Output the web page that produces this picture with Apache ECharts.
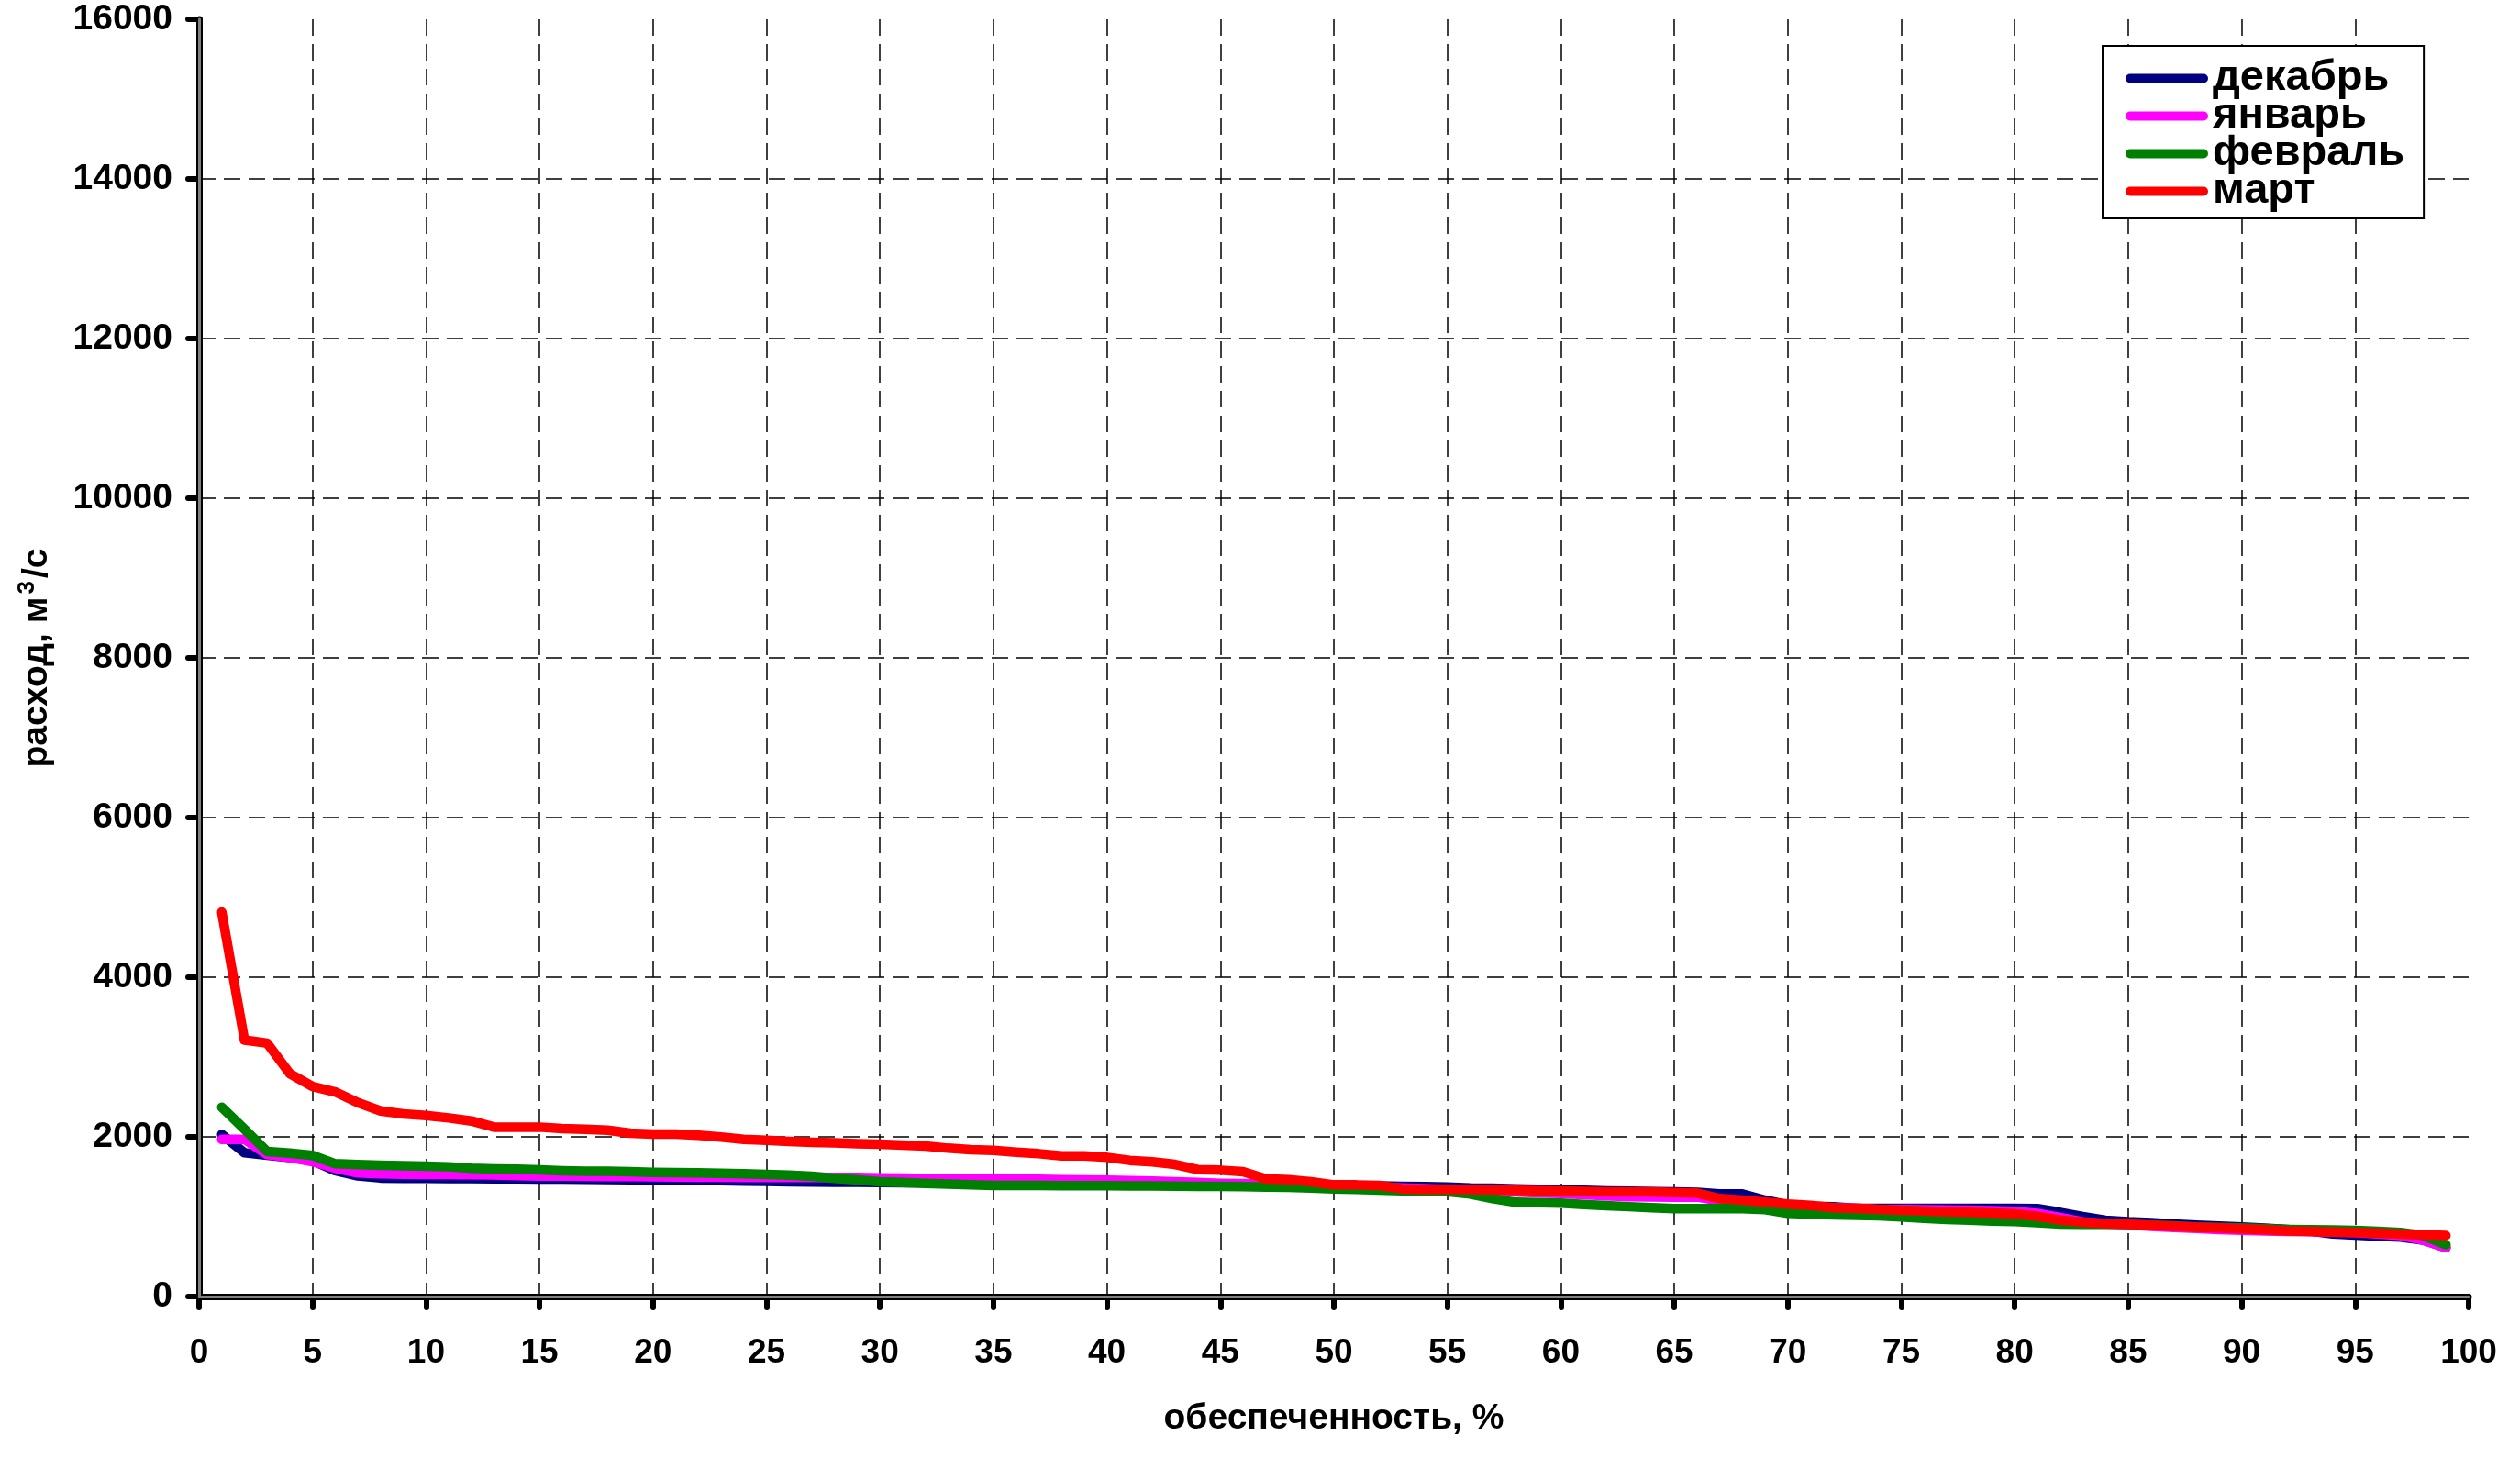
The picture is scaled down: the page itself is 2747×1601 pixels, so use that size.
<!DOCTYPE html>
<html>
<head>
<meta charset="utf-8">
<script src="https://cdn.jsdelivr.net/npm/echarts@6/dist/echarts.min.js"></script>
<style>
html,body{margin:0;padding:0;background:#fff;}
#chart{width:2747px;height:1601px;}
</style>
</head>
<body>
<div id="chart"></div>
<script>
// обеспеченность, %
const provision = [1,2,3,4,5,6,7,8,9,10,11,12,13,14,15,16,17,18,19,20,21,22,23,24,25,26,27,28,29,30,31,32,33,34,35,36,37,38,39,40,41,42,43,44,45,46,47,48,49,50,51,52,53,54,55,56,57,58,59,60,61,62,63,64,65,66,67,68,69,70,71,72,73,74,75,76,77,78,79,80,81,82,83,84,85,86,87,88,89,90,91,92,93,94,95,96,97,98,99];

const december = [2030,1800,1770,1740,1702,1576,1510,1484,1480,1480,1478,1476,1475,1473,1472,1470,1468,1465,1463,1461,1458,1455,1450,1446,1442,1438,1435,1432,1430,1428,1426,1424,1422,1421,1420,1418,1416,1414,1412,1410,1408,1406,1404,1402,1400,1398,1396,1394,1392,1390,1387,1384,1380,1376,1372,1360,1355,1349,1343,1337,1330,1322,1318,1314,1310,1306,1284,1284,1207,1149,1130,1123,1103,1103,1103,1103,1103,1103,1103,1103,1100,1054,1001,955,936,925,909,895,883,871,855,840,820,783,770,756,745,707,611];

const january = [1969,1969,1778,1740,1690,1606,1549,1537,1533,1530,1528,1525,1522,1515,1510,1508,1506,1504,1502,1499,1497,1495,1494,1492,1491,1490,1495,1492,1490,1487,1482,1478,1475,1473,1471,1469,1467,1463,1460,1456,1450,1444,1437,1428,1418,1414,1410,1403,1396,1390,1380,1370,1360,1350,1340,1330,1320,1310,1300,1291,1275,1260,1250,1248,1245,1245,1200,1170,1150,1130,1120,1110,1105,1090,1088,1086,1084,1080,1075,1065,1040,990,935,912,898,879,865,852,840,829,823,817,812,807,802,785,764,707,611];

const february = [2371,2096,1816,1797,1767,1663,1652,1644,1637,1633,1625,1606,1598,1595,1587,1576,1568,1568,1562,1556,1552,1549,1543,1536,1530,1520,1505,1480,1460,1437,1428,1418,1408,1400,1391,1390,1390,1389,1388,1387,1386,1384,1382,1380,1379,1376,1372,1368,1358,1349,1341,1333,1325,1320,1312,1284,1226,1180,1174,1169,1153,1138,1125,1111,1100,1100,1100,1100,1088,1042,1032,1023,1017,1011,996,981,966,956,946,939,924,908,905,905,905,895,885,870,865,860,850,840,835,832,829,815,802,764,649];

const march = [4816,3212,3174,2792,2631,2562,2428,2325,2287,2268,2237,2199,2122,2122,2122,2103,2096,2084,2046,2034,2034,2019,1996,1969,1958,1943,1931,1925,1915,1908,1897,1885,1858,1839,1831,1808,1789,1762,1762,1743,1705,1686,1655,1590,1582,1563,1475,1464,1437,1398,1398,1391,1349,1341,1345,1340,1335,1330,1325,1322,1316,1310,1310,1310,1303,1295,1226,1207,1180,1157,1142,1111,1103,1092,1080,1073,1061,1054,1046,1034,1004,958,930,915,905,892,879,868,858,848,835,821,815,808,802,792,783,773,764];

const seriesNames = ['декабрь','январь','февраль','март'];
const seriesColors = ['#000080','#FF00FF','#008000','#FF0000'];
const yTicks = [0,2000,4000,6000,8000,10000,12000,14000,16000];
const xTicks = [0,5,10,15,20,25,30,35,40,45,50,55,60,65,70,75,80,85,90,95,100];

const xTitle = 'обеспеченность, %';
const yTitleMain = 'расход, м';
const yTitleSup = '3';
const yTitleEnd = '/с';

const allValues = [december, january, february, march];

const chart = echarts.init(document.getElementById('chart'), null, {renderer:'canvas'});

const FONT = 'Liberation Sans, Arial, sans-serif';

const series = seriesNames.map((name, i) => ({
  name: name,
  type: 'line',
  xAxisIndex: 0,
  yAxisIndex: 0,
  data: provision.map((x, k) => [x, allValues[i][k]]),
  showSymbol: false,
  symbol: 'none',
  smooth: false,
  z: 5 + i,
  lineStyle: {color: seriesColors[i], width: 10.5, cap: 'round', join: 'round'},
  itemStyle: {color: seriesColors[i]},
  emphasis: {disabled: true}
}));

const option = {
  animation: false,
  backgroundColor: '#ffffff',
  textStyle: {fontFamily: FONT},
  grid: {left: 217, right: 56, top: 21, bottom: 188, containLabel: false, show: false},
  legend: {
    show: true,
    data: seriesNames,
    orient: 'vertical',
    left: 2292,
    top: 50,
    padding: [12, 21, 6, 25],
    itemGap: -6,
    itemWidth: 90,
    itemHeight: 10,
    icon: 'path://M5,0 L85,0 A5,5 0 0 1 85,10 L5,10 A5,5 0 0 1 5,0 Z',
    backgroundColor: '#ffffff',
    borderColor: '#000000',
    borderWidth: 2,
    borderRadius: 0,
    textStyle: {fontFamily: FONT, fontWeight: 'bold', fontSize: 47, color: '#000'},
    selectedMode: false
  },
  xAxis: [{
    type: 'value',
    min: 0, max: 100, interval: 5,
    position: 'bottom',
    name: xTitle,
    nameLocation: 'middle',
    nameGap: 114,
    nameTextStyle: {fontFamily: FONT, fontWeight: 'bold', fontSize: 39, color: '#000'},
    axisLine: {show: true, onZero: false, lineStyle: {color: '#000', width: 7}},
    axisTick: {show: true, inside: false, length: 12, lineStyle: {color: '#000', width: 6, cap: 'round'}},
    axisLabel: {show: true, margin: 43, fontFamily: FONT, fontWeight: 'bold', fontSize: 37, color: '#000',
      formatter: v => (xTicks.indexOf(v) >= 0 ? String(v) : '')},
    splitLine: {show: true, showMinLine: false, showMaxLine: false, lineStyle: {color: '#000', width: 1.5, type: [18, 9]}},
    z: 2
  }, {
    type: 'value',
    min: 0, max: 100, interval: 5,
    position: 'top',
    axisLine: {show: true, lineStyle: {color: '#808080', width: 3}},
    axisTick: {show: false}, axisLabel: {show: false}, splitLine: {show: false},
    z: 3
  }],
  yAxis: [{
    type: 'value',
    min: 0, max: 16000, interval: 2000,
    position: 'left',
    name: yTitleMain + '{sup|' + yTitleSup + '}' + yTitleEnd,
    nameLocation: 'middle',
    nameRotate: 90,
    nameGap: 154,
    nameTextStyle: {fontFamily: FONT, fontWeight: 'bold', fontSize: 39, color: '#000', lineHeight: 46,
      rich: {sup: {fontFamily: FONT, fontWeight: 'bold', fontSize: 26, color: '#000', lineHeight: 26, verticalAlign: 'top', padding: [0, 3, 0, 3]}}},
    axisLine: {show: true, onZero: false, lineStyle: {color: '#000', width: 7}},
    axisTick: {show: true, inside: false, length: 12, lineStyle: {color: '#000', width: 6, cap: 'round'}},
    axisLabel: {show: true, margin: 29, fontFamily: FONT, fontWeight: 'bold', fontSize: 39, color: '#000',
      formatter: v => (yTicks.indexOf(v) >= 0 ? String(v) : '')},
    splitLine: {show: true, showMinLine: false, showMaxLine: false, lineStyle: {color: '#000', width: 1.5, type: [18, 9]}},
    z: 2
  }, {
    type: 'value',
    min: 0, max: 16000, interval: 2000,
    position: 'right',
    axisLine: {show: true, lineStyle: {color: '#808080', width: 3}},
    axisTick: {show: false}, axisLabel: {show: false}, splitLine: {show: false},
    z: 3
  }],
  series: series
};

chart.setOption(option);
</script>
</body>
</html>
